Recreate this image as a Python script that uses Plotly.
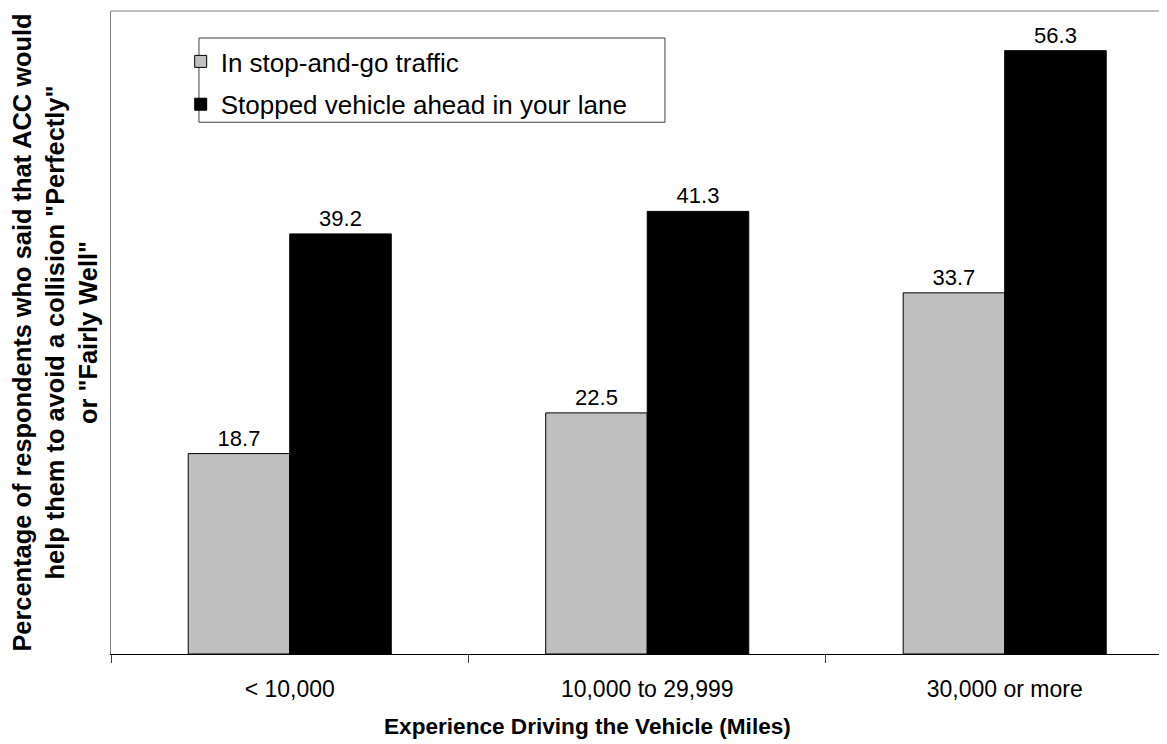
import plotly.graph_objects as go

categories = ["< 10,000", "10,000 to 29,999", "30,000 or more"]
stop_and_go = [18.7, 22.5, 33.7]
stopped_ahead = [39.2, 41.3, 56.3]
series_names = ["In stop-and-go traffic", "Stopped vehicle ahead in your lane"]

FONT = "Arial, Liberation Sans, sans-serif"

fig = go.Figure()
fig.add_trace(go.Bar(
    x=categories, y=stop_and_go, name=series_names[0], legendgroup="a",
    marker=dict(color="#C0C0C0", line=dict(color="black", width=1)),
    text=[f"{v:.1f}" for v in stop_and_go], textposition="outside",
    textfont=dict(size=22, color="black"), cliponaxis=False,
))
fig.add_trace(go.Bar(
    x=categories, y=stopped_ahead, name=series_names[1], legendgroup="b",
    marker=dict(color="black", line=dict(color="black", width=1)),
    text=[f"{v:.1f}" for v in stopped_ahead], textposition="outside",
    textfont=dict(size=22, color="black"), cliponaxis=False,
))

# page body adds 8px around the figure, margins account for it
fig.update_layout(
    width=1167, height=744,
    margin=dict(l=103, r=8, t=3, b=98),
    paper_bgcolor="white", plot_bgcolor="white",
    font=dict(family=FONT, size=22, color="black"),
    barmode="group", bargap=0.432, bargroupgap=0,
    showlegend=True,
    legend=dict(
        x=0.066, y=0.958, xanchor="left", yanchor="top",
        bgcolor="rgba(0,0,0,0)", font=dict(size=26),
        itemwidth=30, traceorder="grouped", tracegroupgap=6,
    ),
    xaxis=dict(
        type="category", range=[-0.5, 2.454],
        showline=True, linecolor="black", linewidth=1,
        ticks="outside", tickson="boundaries", ticklen=8, tickcolor="#404040",
        ticklabelstandoff=14,
        showgrid=False, zeroline=False,
        tickfont=dict(size=23),
    ),
    yaxis=dict(
        range=[0, 60], showticklabels=False, ticks="", showgrid=False, zeroline=False,
        showline=True, linecolor="#808080", linewidth=1,
        title=dict(
            text="<b>Percentage of respondents who said that ACC would<br>help them to avoid a collision \"Perfectly\"<br>or \"Fairly Well\"</b>",
            font=dict(size=25.4), standoff=14,
        ),
    ),
    annotations=[
        dict(text="<b>Experience Driving the Vehicle (Miles)</b>", xref="paper", yref="paper",
             x=0.451, y=-0.113, xanchor="center", yanchor="middle", showarrow=False,
             font=dict(size=22.6)),
    ],
    shapes=[
        dict(type="line", xref="paper", yref="paper", x0=0, x1=1, y0=1, y1=1,
             line=dict(color="#808080", width=1)),
        dict(type="rect", xref="paper", yref="paper", x0=0.0833, x1=0.5246, y0=0.827, y1=0.958,
             line=dict(color="#404040", width=1), fillcolor="rgba(0,0,0,0)"),
    ],
)

fig.write_html("out.html")
